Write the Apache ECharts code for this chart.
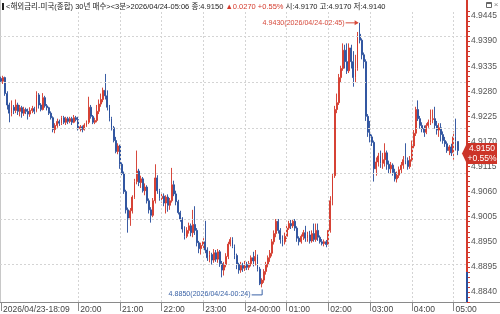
<!DOCTYPE html>
<html><head><meta charset="utf-8">
<script src="https://cdn.jsdelivr.net/npm/echarts@6/dist/echarts.min.js"></script>
<style>html,body{margin:0;padding:0;background:#fff}#c{width:500px;height:314px}</style>
</head><body><div id="c"></div>
<script>
// ---- data ----
const startDay = 23, startMonth = 4, startMinute = 18 * 60 + 9, stepMinutes = 3;
// [open, close, low, high]
const candles = [
[4.9308,4.9302,4.9298,4.9312],[4.9302,4.9310,4.9296,4.9314],[4.9310,4.9275,4.9270,4.9312],[4.9275,4.9250,4.9240,4.9280],
[4.9250,4.9232,4.9212,4.9255],[4.9232,4.9245,4.9225,4.9260],[4.9245,4.9238,4.9230,4.9250],[4.9238,4.9250,4.9232,4.9262],
[4.9250,4.9236,4.9228,4.9255],[4.9236,4.9244,4.9225,4.9250],[4.9244,4.9232,4.9222,4.9248],[4.9232,4.9240,4.9226,4.9246],
[4.9240,4.9236,4.9230,4.9244],[4.9236,4.9230,4.9218,4.9242],[4.9230,4.9238,4.9224,4.9245],[4.9238,4.9242,4.9232,4.9248],
[4.9242,4.9236,4.9230,4.9246],[4.9236,4.9272,4.9234,4.9280],[4.9272,4.9250,4.9242,4.9276],[4.9250,4.9240,4.9236,4.9254],
[4.9240,4.9266,4.9238,4.9276],[4.9266,4.9248,4.9244,4.9270],[4.9248,4.9244,4.9238,4.9252],[4.9244,4.9232,4.9228,4.9246],
[4.9232,4.9222,4.9218,4.9236],[4.9222,4.9196,4.9190,4.9225],[4.9196,4.9205,4.9188,4.9210],[4.9205,4.9214,4.9200,4.9220],
[4.9214,4.9210,4.9204,4.9218],[4.9210,4.9222,4.9206,4.9226],[4.9222,4.9212,4.9208,4.9226],[4.9212,4.9220,4.9206,4.9224],
[4.9220,4.9214,4.9208,4.9224],[4.9214,4.9220,4.9210,4.9224],[4.9220,4.9212,4.9206,4.9224],[4.9212,4.9222,4.9210,4.9228],
[4.9222,4.9218,4.9214,4.9226],[4.9218,4.9198,4.9194,4.9224],[4.9198,4.9202,4.9192,4.9206],[4.9202,4.9196,4.9190,4.9205],
[4.9196,4.9206,4.9194,4.9210],[4.9206,4.9212,4.9202,4.9216],[4.9212,4.9245,4.9208,4.9268],[4.9245,4.9225,4.9220,4.9250],
[4.9225,4.9212,4.9208,4.9228],[4.9212,4.9216,4.9208,4.9222],[4.9216,4.9236,4.9212,4.9250],[4.9236,4.9252,4.9230,4.9262],
[4.9252,4.9262,4.9246,4.9275],[4.9262,4.9282,4.9256,4.9288],[4.9282,4.9270,4.9262,4.9318],[4.9270,4.9245,4.9238,4.9282],
[4.9245,4.9220,4.9214,4.9250],[4.9220,4.9200,4.9194,4.9224],[4.9200,4.9172,4.9168,4.9204],[4.9172,4.9148,4.9144,4.9180],
[4.9148,4.9160,4.9142,4.9166],[4.9160,4.9120,4.9110,4.9163],[4.9120,4.9100,4.9096,4.9124],[4.9100,4.9060,4.9055,4.9104],
[4.9060,4.9020,4.9012,4.9064],[4.9020,4.9002,4.8970,4.9025],[4.9002,4.9018,4.8985,4.9024],[4.9018,4.9048,4.9012,4.9052],
[4.9048,4.9082,4.9044,4.9088],[4.9082,4.9105,4.9076,4.9150],[4.9105,4.9080,4.9072,4.9110],[4.9080,4.9088,4.9068,4.9095],
[4.9088,4.9062,4.9058,4.9092],[4.9062,4.9070,4.9052,4.9078],[4.9070,4.9040,4.9034,4.9074],[4.9040,4.9020,4.9012,4.9045],
[4.9020,4.9008,4.8992,4.9026],[4.9008,4.9040,4.9004,4.9046],[4.9040,4.9090,4.9034,4.9120],[4.9090,4.9062,4.9055,4.9096],
[4.9062,4.9045,4.9040,4.9066],[4.9045,4.9050,4.9036,4.9058],[4.9050,4.9035,4.9028,4.9056],[4.9035,4.9048,4.9012,4.9052],
[4.9048,4.9030,4.9016,4.9054],[4.9030,4.9040,4.9020,4.9046],[4.9040,4.9075,4.9036,4.9112],[4.9075,4.9055,4.9050,4.9084],
[4.9055,4.9038,4.9030,4.9062],[4.9038,4.9014,4.9010,4.9042],[4.9014,4.9000,4.8994,4.9018],[4.9000,4.8978,4.8970,4.9004],
[4.8978,4.8962,4.8955,4.8984],[4.8962,4.8975,4.8958,4.8982],[4.8975,4.8985,4.8968,4.8992],[4.8985,4.8970,4.8962,4.8990],
[4.8970,4.8988,4.8960,4.9020],[4.8988,4.8975,4.8965,4.9028],[4.8975,4.8948,4.8940,4.8980],[4.8948,4.8935,4.8925,4.8952],
[4.8935,4.8942,4.8922,4.8948],[4.8942,4.8950,4.8934,4.8958],[4.8950,4.8932,4.8925,4.8996],[4.8932,4.8915,4.8908,4.8938],
[4.8915,4.8922,4.8905,4.8930],[4.8922,4.8910,4.8900,4.8926],[4.8910,4.8926,4.8904,4.8934],[4.8926,4.8912,4.8906,4.8932],
[4.8912,4.8928,4.8904,4.8934],[4.8928,4.8902,4.8895,4.8932],[4.8902,4.8888,4.8872,4.8908],[4.8888,4.8900,4.8876,4.8906],
[4.8900,4.8918,4.8894,4.8925],[4.8918,4.8945,4.8912,4.8950],[4.8945,4.8955,4.8940,4.8960],[4.8955,4.8940,4.8936,4.8960],
[4.8940,4.8920,4.8912,4.8944],[4.8920,4.8900,4.8890,4.8924],[4.8900,4.8888,4.8880,4.8904],[4.8888,4.8898,4.8882,4.8906],
[4.8898,4.8892,4.8884,4.8904],[4.8892,4.8900,4.8886,4.8908],[4.8900,4.8894,4.8888,4.8906],[4.8894,4.8902,4.8888,4.8908],
[4.8902,4.8915,4.8896,4.8920],[4.8915,4.8908,4.8896,4.8928],[4.8908,4.8918,4.8898,4.8932],[4.8918,4.8890,4.8885,4.8922],
[4.8890,4.8858,4.8855,4.8895],[4.8858,4.8866,4.8850,4.8870],[4.8866,4.8885,4.8860,4.8890],[4.8885,4.8900,4.8878,4.8906],
[4.8900,4.8915,4.8894,4.8920],[4.8915,4.8925,4.8906,4.8932],[4.8925,4.8950,4.8918,4.8956],[4.8950,4.8968,4.8944,4.8975],
[4.8968,4.8995,4.8960,4.9000],[4.8995,4.8975,4.8968,4.9000],[4.8975,4.8955,4.8946,4.8980],[4.8955,4.8950,4.8940,4.8964],
[4.8950,4.8962,4.8944,4.8970],[4.8962,4.8980,4.8956,4.8986],[4.8980,4.8990,4.8976,4.8996],[4.8990,4.8985,4.8978,4.8998],
[4.8985,4.8995,4.8980,4.9000],[4.8995,4.8980,4.8974,4.9000],[4.8980,4.8958,4.8950,4.8984],[4.8958,4.8950,4.8942,4.8962],
[4.8950,4.8962,4.8946,4.8966],[4.8962,4.8970,4.8954,4.8976],[4.8970,4.8958,4.8950,4.8985],[4.8958,4.8965,4.8950,4.8972],
[4.8965,4.8952,4.8946,4.8974],[4.8952,4.8968,4.8948,4.8975],[4.8968,4.8955,4.8950,4.8990],[4.8955,4.8975,4.8950,4.8990],
[4.8975,4.8960,4.8952,4.8990],[4.8960,4.8950,4.8946,4.8964],[4.8950,4.8946,4.8942,4.8956],[4.8946,4.8950,4.8940,4.8955],
[4.8950,4.8944,4.8938,4.8954],[4.8944,4.8975,4.8940,4.8980],[4.8975,4.9040,4.8970,4.9050],[4.9040,4.9095,4.9030,4.9100],
[4.9095,4.9240,4.9090,4.9248],[4.9240,4.9255,4.9232,4.9275],[4.9255,4.9310,4.9250,4.9318],[4.9310,4.9330,4.9300,4.9336],
[4.9330,4.9370,4.9325,4.9385],[4.9370,4.9345,4.9330,4.9382],[4.9345,4.9325,4.9318,4.9385],[4.9325,4.9375,4.9320,4.9385],
[4.9375,4.9345,4.9330,4.9382],[4.9345,4.9310,4.9290,4.9368],[4.9310,4.9330,4.9300,4.9360],[4.9330,4.9405,4.9325,4.9410],
[4.9405,4.9392,4.9385,4.9430],[4.9392,4.9360,4.9350,4.9396],[4.9360,4.9345,4.9330,4.9365],[4.9345,4.9225,4.9215,4.9350],
[4.9225,4.9190,4.9180,4.9230],[4.9190,4.9180,4.9168,4.9215],[4.9180,4.9168,4.9160,4.9185],[4.9168,4.9110,4.9082,4.9172],
[4.9110,4.9125,4.9095,4.9135],[4.9125,4.9138,4.9115,4.9145],[4.9138,4.9122,4.9112,4.9150],[4.9122,4.9130,4.9110,4.9145],
[4.9130,4.9145,4.9115,4.9166],[4.9145,4.9120,4.9108,4.9150],[4.9120,4.9110,4.9100,4.9128],[4.9110,4.9118,4.9100,4.9125],
[4.9118,4.9102,4.9095,4.9122],[4.9102,4.9088,4.9082,4.9110],[4.9088,4.9096,4.9080,4.9104],[4.9096,4.9108,4.9090,4.9115],
[4.9108,4.9118,4.9100,4.9125],[4.9118,4.9130,4.9110,4.9138],[4.9130,4.9128,4.9120,4.9166],[4.9128,4.9115,4.9108,4.9135],
[4.9115,4.9130,4.9110,4.9138],[4.9130,4.9160,4.9126,4.9172],[4.9160,4.9188,4.9155,4.9195],[4.9188,4.9240,4.9182,4.9246],
[4.9240,4.9220,4.9215,4.9260],[4.9220,4.9205,4.9198,4.9226],[4.9205,4.9198,4.9190,4.9212],[4.9198,4.9190,4.9180,4.9205],
[4.9190,4.9205,4.9186,4.9210],[4.9205,4.9212,4.9200,4.9218],[4.9212,4.9218,4.9206,4.9240],[4.9218,4.9220,4.9210,4.9240],
[4.9220,4.9205,4.9198,4.9246],[4.9205,4.9195,4.9185,4.9215],[4.9195,4.9200,4.9180,4.9210],[4.9200,4.9185,4.9170,4.9210],
[4.9185,4.9172,4.9165,4.9192],[4.9172,4.9165,4.9158,4.9180],[4.9165,4.9150,4.9145,4.9170],[4.9150,4.9158,4.9140,4.9162],
[4.9158,4.9145,4.9138,4.9165],[4.9145,4.9180,4.9130,4.9192],[4.9180,4.9170,4.9150,4.9220],[4.9170,4.9150,4.9140,4.9170]
];
const padSlots = 4;
const yTickValues = [4.8840,4.8895,4.8950,4.9005,4.9060,4.9115,4.9170,4.9225,4.9280,4.9335,4.9390,4.9445];
const tickCats   = ['04/23 18:09','04/23 20:00','04/23 21:00','04/23 22:00','04/23 23:00','04/24 00:00','04/24 01:00','04/24 02:00','04/24 03:00','04/24 04:00','04/24 05:00'];
const tickLabels = ['2026/04/23-18:09','20:00','21:00','22:00','23:00','24-00:00','01:00','02:00','03:00','04:00','05:00'];
const highPoint = {cat:'04/24 02:45', value:4.9430, label:'4.9430(2026/04/24-02:45)'};
const lowPoint  = {cat:'04/24 00:24', value:4.8850, label:'4.8850(2026/04/24-00:24)'};
const lastClose = 4.9150, lastLabel = '4.9150', lastPct = '+0.55%';
const headerA = '<해외금리-미국(종합) 30년 매수><3분>2026/04/24-05:06 종:4.9150 ';
const headerB = '▲0.0270 +0.55%';
const headerC = ' 시:4.9170 고:4.9170 저:4.9140';

// ---- build ----
const pad2 = n => (n < 10 ? '0' : '') + n;
const cats = [];
for (let i = 0; i < candles.length + padSlots; i++) {
  const t = startMinute + i * stepMinutes;
  const d = startDay + Math.floor(t / 1440), m = t % 1440;
  cats.push(pad2(startMonth) + '/' + pad2(d) + ' ' + pad2(Math.floor(m / 60)) + ':' + pad2(m % 60));
}
const seriesData = candles.concat(Array(padSlots).fill('-'));
const tickIdx = tickCats.map(c => cats.indexOf(c));
const isTick = (i) => tickIdx.indexOf(i) >= 0;

const RED = '#d43a2c', BLUE = '#2a4f9c';
const FONT = '"Liberation Sans", Arial, "Noto Sans CJK KR", sans-serif';
const chart = echarts.init(document.getElementById('c'), null, {renderer: 'canvas'});
const yMin = 4.8818, yMax = 4.9456, yStep = 0.0011;

chart.setOption({
  animation: false,
  backgroundColor: '#ffffff',
  grid: {left: 0, right: 33, top: 11, bottom: 12, containLabel: false},
  xAxis: {
    type: 'category', data: cats, boundaryGap: true, offset: 0,
    axisLine: {show: true, lineStyle: {color: '#8a8a8a', width: 1}},
    axisTick: {show: true, alignWithLabel: true, interval: (i) => isTick(i), length: 9, lineStyle: {color: '#8a8a8a'}},
    axisLabel: {show: true, interval: (i) => isTick(i), formatter: (v) => tickLabels[tickCats.indexOf(v)] || '',
      align: 'left', margin: 3, padding: [0, 0, 0, 2], fontSize: 8.5, color: '#444', fontFamily: FONT},
    splitLine: {show: false}
  },
  yAxis: {
    type: 'value', position: 'right', min: yMin, max: yMax, interval: yStep, scale: true,
    axisLine: {show: true, onZero: false, lineStyle: {color: RED, width: 2}},
    axisTick: {show: true, inside: false, length: 3, lineStyle: {color: RED, width: 1}},
    axisLabel: {show: true, margin: 4, fontSize: 8.5, color: '#555', fontFamily: FONT,
      formatter: (v) => {
        const k = Math.round((v - yTickValues[0]) / yStep);
        return (k >= 0 && k % 5 === 0 && Math.abs(v - (yTickValues[0] + k * yStep)) < 1e-6 && v <= yTickValues[yTickValues.length-1] + 1e-6) ? v.toFixed(4) : '';
      }},
    splitLine: {show: false}
  },
  series: [
    {
      type: 'line', data: [], z: 1, silent: true,
      markLine: {
        silent: true, symbol: 'none', animation: false,
        label: {show: false},
        lineStyle: {color: '#d4d4d4', type: [2, 2], width: 1},
        data: yTickValues.map(v => ({yAxis: v})).concat(tickIdx.slice(1).map(i => ({xAxis: i})))
      }
    },
    {
      type: 'candlestick', data: seriesData, z: 3,
      barWidth: 1.4,
      itemStyle: {color: RED, color0: BLUE, borderColor: RED, borderColor0: BLUE, borderWidth: 1, opacity: 0.92}
    }
  ]
});

const hiIdx = cats.indexOf(highPoint.cat), loIdx = cats.indexOf(lowPoint.cat);
const hp = chart.convertToPixel({seriesIndex: 1}, [hiIdx, highPoint.value]);
const lp = chart.convertToPixel({seriesIndex: 1}, [loIdx, lowPoint.value]);
const tp = chart.convertToPixel({seriesIndex: 1}, [candles.length - 1, lastClose]);
const gx = 467; // axis line x
const ty = tp[1] + 3;
const ANN_FONT = '7.1px ' + FONT;

chart.setOption({
  graphic: [
    // header
    {type: 'rect', shape: {x: 2, y: 3, width: 2, height: 7}, style: {fill: '#222'}},
    {type: 'text', x: 6, y: 7, style: {
      text: '{a|' + headerA + '}{b|' + headerB + '}{a|' + headerC + '}',
      verticalAlign: 'middle',
      rich: {a: {fill: '#222', font: '7.5px ' + FONT}, b: {fill: RED, font: '7.5px ' + FONT}}
    }},
    // window icons
    {type: 'rect', shape: {x: 486.5, y: 2.5, width: 5, height: 5}, style: {fill: '#fff', stroke: '#666', lineWidth: 1}},
    {type: 'rect', shape: {x: 486.5, y: 2.5, width: 5, height: 1.5}, style: {fill: '#666'}},
    {type: 'text', x: 496, y: 5, style: {text: '×', fill: '#888', font: '8px ' + FONT, align: 'center', verticalAlign: 'middle'}},
    // left border & top extension of axis line
    {type: 'line', shape: {x1: 0.5, y1: 0, x2: 0.5, y2: 302}, style: {stroke: '#c8c8c8', lineWidth: 1}},
    {type: 'line', shape: {x1: gx, y1: 0, x2: gx, y2: 12}, style: {stroke: RED, lineWidth: 2}},
    {type: 'line', shape: {x1: gx, y1: 272, x2: gx, y2: 302}, style: {stroke: BLUE, lineWidth: 2}, z: 10},
    {type: 'line', shape: {x1: gx, y1: 302.5, x2: 500, y2: 302.5}, style: {stroke: '#8a8a8a', lineWidth: 1}},
    // high annotation
    {type: 'text', x: hp[0] - 15, y: hp[1], style: {text: highPoint.label, fill: '#d64a3c', font: ANN_FONT, align: 'right', verticalAlign: 'middle'}, z: 20},
    {type: 'line', shape: {x1: hp[0] - 14, y1: hp[1], x2: hp[0] - 2, y2: hp[1]}, style: {stroke: '#d64a3c', lineWidth: 1}, z: 20},
    {type: 'polygon', shape: {points: [[hp[0] - 1, hp[1]], [hp[0] - 5, hp[1] - 2.5], [hp[0] - 5, hp[1] + 2.5]]}, style: {fill: '#d64a3c'}, z: 20},
    // low annotation
    {type: 'text', x: lp[0] - 11, y: lp[1] + 7, style: {text: lowPoint.label, fill: '#3a62a6', font: ANN_FONT, align: 'right', verticalAlign: 'middle'}, z: 20},
    {type: 'polyline', shape: {points: [[lp[0] - 10, lp[1] + 7.5], [lp[0] + 0.5, lp[1] + 7.5], [lp[0] + 0.5, lp[1] + 2]]}, style: {stroke: '#3a62a6', lineWidth: 1, fill: null}, z: 20},
    // last price tag
    {type: 'polygon', shape: {points: [[gx - 5, ty], [gx, ty - 10.5], [497, ty - 10.5], [497, ty + 10.5], [gx, ty + 10.5]]}, style: {fill: '#cc3428'}, z: 30},
    {type: 'text', x: 482, y: ty - 5, style: {text: lastLabel, fill: '#fff', font: '8.5px ' + FONT, align: 'center', verticalAlign: 'middle'}, z: 31},
    {type: 'text', x: 482, y: ty + 5, style: {text: lastPct, fill: '#fff', font: '8.5px ' + FONT, align: 'center', verticalAlign: 'middle'}, z: 31}
  ]
});
</script></body></html>
